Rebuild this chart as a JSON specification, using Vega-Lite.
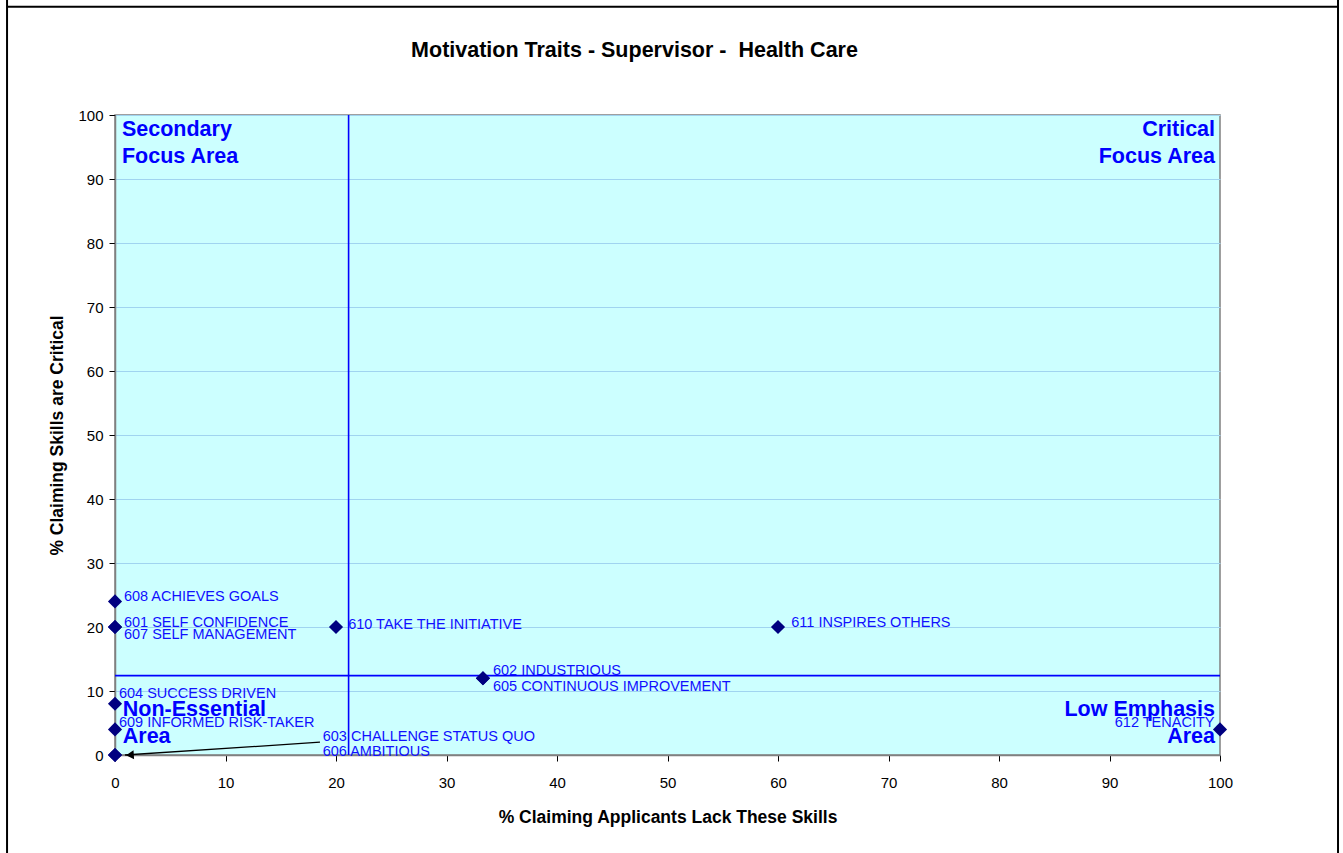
{
  "$schema": "https://vega.github.io/schema/vega-lite/v6.json",
  "autosize": "none",
  "width": 1105,
  "height": 640,
  "padding": {"left": 115, "top": 115, "right": 123, "bottom": 98},
  "background": "white",
  "config": {
    "font": "Liberation Sans",
    "view": {"fill": "#ccffff", "stroke": "#808080", "strokeWidth": 1.5}
  },
  "title": {
    "text": "Motivation Traits - Supervisor -\u00a0 Health Care",
    "fontSize": 21.5,
    "fontWeight": "bold",
    "color": "black",
    "anchor": "middle",
    "baseline": "alphabetic",
    "dx": -33,
    "offset": -80
  },
  "datasets": {
    "points": [
      {"skill": "601 SELF CONFIDENCE", "lack": 0, "critical": 20},
      {"skill": "602 INDUSTRIOUS", "lack": 33.3, "critical": 12},
      {"skill": "603 CHALLENGE STATUS QUO", "lack": 0, "critical": 0},
      {"skill": "604 SUCCESS DRIVEN", "lack": 0, "critical": 8},
      {"skill": "605 CONTINUOUS IMPROVEMENT", "lack": 33.3, "critical": 12},
      {"skill": "606 AMBITIOUS", "lack": 0, "critical": 0},
      {"skill": "607 SELF MANAGEMENT", "lack": 0, "critical": 20},
      {"skill": "608 ACHIEVES GOALS", "lack": 0, "critical": 24},
      {"skill": "609 INFORMED RISK-TAKER", "lack": 0, "critical": 4},
      {"skill": "610 TAKE THE INITIATIVE", "lack": 20, "critical": 20},
      {"skill": "611 INSPIRES OTHERS", "lack": 60, "critical": 20},
      {"skill": "612 TENACITY", "lack": 100, "critical": 4}
    ],
    "labels": [
      {"text": "608 ACHIEVES GOALS", "lx": 0.81, "ly": 24.7},
      {"text": "601 SELF CONFIDENCE", "lx": 0.81, "ly": 20.6},
      {"text": "607 SELF MANAGEMENT", "lx": 0.81, "ly": 18.75},
      {"text": "610 TAKE THE INITIATIVE", "lx": 21.1, "ly": 20.3},
      {"text": "611 INSPIRES OTHERS", "lx": 61.2, "ly": 20.7},
      {"text": "602 INDUSTRIOUS", "lx": 34.2, "ly": 13.2},
      {"text": "605 CONTINUOUS IMPROVEMENT", "lx": 34.2, "ly": 10.6},
      {"text": "604 SUCCESS DRIVEN", "lx": 0.36, "ly": 9.6},
      {"text": "609 INFORMED RISK-TAKER", "lx": 0.36, "ly": 4.95},
      {"text": "603 CHALLENGE STATUS QUO", "lx": 18.8, "ly": 2.86},
      {"text": "606 AMBITIOUS", "lx": 18.8, "ly": 0.52}
    ],
    "labelsLeft": [
      {"text": "612 TENACITY", "lx": 99.5, "ly": 5.0}
    ],
    "quadLeft": [
      {"text": "Secondary", "qx": 0.63, "qy": 97.7},
      {"text": "Focus Area", "qx": 0.63, "qy": 93.4},
      {"text": "Non-Essential", "qx": 0.7, "qy": 7.1},
      {"text": "Area", "qx": 0.7, "qy": 2.86}
    ],
    "quadRight": [
      {"text": "Critical", "qx": 99.55, "qy": 97.7},
      {"text": "Focus Area", "qx": 99.55, "qy": 93.4},
      {"text": "Low Emphasis", "qx": 99.55, "qy": 7.0},
      {"text": "Area", "qx": 99.55, "qy": 2.86}
    ],
    "dividers": [
      {"vx": 21.14, "hy": 12.4}
    ],
    "arrow": [
      {"ax": 18.55, "ay": 2.0, "ax2": 0.9, "ay2": 0}
    ],
    "frame": [
      {"fx": -9.77, "fy": 117.97, "fx2": -9.77, "fy2": -15.3},
      {"fx": 110.68, "fy": 117.97, "fx2": 110.68, "fy2": -15.3},
      {"fx": -9.77, "fy": 116.9, "fx2": 110.68, "fy2": 116.9}
    ]
  },
  "layer": [
    {
      "data": {"name": "points"},
      "mark": {"type": "point", "opacity": 0},
      "encoding": {
        "x": {
          "field": "lack", "type": "quantitative",
          "scale": {"domain": [0, 100], "nice": false, "zero": false},
          "axis": {
            "title": "% Claiming Applicants Lack These Skills",
            "values": [0, 10, 20, 30, 40, 50, 60, 70, 80, 90, 100],
            "grid": false,
            "domainColor": "#808080",
            "domainWidth": 1.5,
            "tickColor": "black",
            "tickSize": 6,
            "labelFontSize": 15,
            "labelColor": "black",
            "labelPadding": 14,
            "labelFlush": false,
            "titleFontSize": 17.5,
            "titleFontWeight": "bold",
            "titleColor": "black",
            "titlePadding": 18
          }
        },
        "y": {
          "field": "critical", "type": "quantitative",
          "scale": {"domain": [0, 100], "nice": false, "zero": false},
          "axis": {
            "title": "% Claiming Skills are Critical",
            "values": [0, 10, 20, 30, 40, 50, 60, 70, 80, 90, 100],
            "grid": true,
            "gridColor": "#a0d4f0",
            "gridWidth": 1,
            "domainColor": "#808080",
            "domainWidth": 1.5,
            "tickColor": "black",
            "tickSize": 6,
            "labelFontSize": 15,
            "labelColor": "black",
            "labelPadding": 6,
            "labelFlush": false,
            "titleFontSize": 17.5,
            "titleFontWeight": "bold",
            "titleColor": "black",
            "titlePadding": 11
          }
        }
      }
    },
    {
      "data": {"name": "quadLeft"},
      "mark": {"type": "text", "align": "left", "baseline": "middle", "fontSize": 21.5, "fontWeight": "bold", "color": "#0000ff"},
      "encoding": {
        "x": {"field": "qx", "type": "quantitative"},
        "y": {"field": "qy", "type": "quantitative"},
        "text": {"field": "text"}
      }
    },
    {
      "data": {"name": "quadRight"},
      "mark": {"type": "text", "align": "right", "baseline": "middle", "fontSize": 21.5, "fontWeight": "bold", "color": "#0000ff"},
      "encoding": {
        "x": {"field": "qx", "type": "quantitative"},
        "y": {"field": "qy", "type": "quantitative"},
        "text": {"field": "text"}
      }
    },
    {
      "data": {"name": "dividers"},
      "mark": {"type": "rule", "color": "#0000ff", "strokeWidth": 1.6},
      "encoding": {"x": {"field": "vx", "type": "quantitative"}}
    },
    {
      "data": {"name": "dividers"},
      "mark": {"type": "rule", "color": "#0000ff", "strokeWidth": 1.6},
      "encoding": {"y": {"field": "hy", "type": "quantitative"}}
    },
    {
      "data": {"name": "arrow"},
      "mark": {"type": "rule", "color": "black", "strokeWidth": 1.3},
      "encoding": {
        "x": {"field": "ax", "type": "quantitative"},
        "y": {"field": "ay", "type": "quantitative"},
        "x2": {"field": "ax2"},
        "y2": {"field": "ay2"}
      }
    },
    {
      "data": {"name": "arrow"},
      "mark": {"type": "point", "shape": "triangle-left", "filled": true, "color": "black", "size": 80, "opacity": 1, "angle": -4, "xOffset": 5},
      "encoding": {
        "x": {"field": "ax2", "type": "quantitative"},
        "y": {"field": "ay2", "type": "quantitative"}
      }
    },
    {
      "data": {"name": "points"},
      "mark": {"type": "point", "shape": "diamond", "filled": true, "color": "#000080", "size": 200, "opacity": 1},
      "encoding": {
        "x": {"field": "lack", "type": "quantitative"},
        "y": {"field": "critical", "type": "quantitative"}
      }
    },
    {
      "data": {"name": "labels"},
      "mark": {"type": "text", "align": "left", "baseline": "middle", "fontSize": 14.5, "color": "#1010ff"},
      "encoding": {
        "x": {"field": "lx", "type": "quantitative"},
        "y": {"field": "ly", "type": "quantitative"},
        "text": {"field": "text"}
      }
    },
    {
      "data": {"name": "labelsLeft"},
      "mark": {"type": "text", "align": "right", "baseline": "middle", "fontSize": 14.5, "color": "#1010ff"},
      "encoding": {
        "x": {"field": "lx", "type": "quantitative"},
        "y": {"field": "ly", "type": "quantitative"},
        "text": {"field": "text"}
      }
    },
    {
      "data": {"name": "frame"},
      "mark": {"type": "rule", "color": "black", "strokeWidth": 2},
      "encoding": {
        "x": {"field": "fx", "type": "quantitative"},
        "y": {"field": "fy", "type": "quantitative"},
        "x2": {"field": "fx2"},
        "y2": {"field": "fy2"}
      }
    }
  ]
}
